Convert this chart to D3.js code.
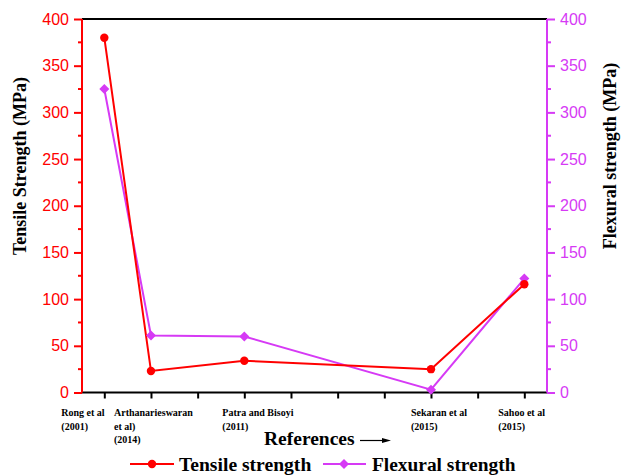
<!DOCTYPE html>
<html><head><meta charset="utf-8">
<script src="https://cdn.jsdelivr.net/npm/d3@7"></script>
<style>body{margin:0;background:#fff}svg{display:block}
.serif{font-family:"Liberation Serif","Times New Roman",Times,"DejaVu Serif",serif;font-weight:bold}
</style>
</head><body>
<svg id="c" width="621" height="475"></svg>
<script>
const tickCount = 10; // x tick positions 0..9
const refIndex = [0, 1, 3, 7, 9];
const refLabels = [
  ["Rong et al", "(2001)"],
  ["Arthanarieswaran", "et al)", "(2014)"],
  ["Patra and Bisoyi", "(2011)"],
  ["Sekaran et al", "(2015)"],
  ["Sahoo et al", "(2015)"]
];
const tensile = [380, 23, 34, 25, 116];
const flexural = [325, 61, 60, 3, 122];
const yTicks = [0, 50, 100, 150, 200, 250, 300, 350, 400];

const RED = "#ff0000", MAG = "#d63af5";
const L = 82, R = 547, T = 19, B = 392.5;
const svg = d3.select("#c");
const x = d3.scaleLinear().domain([-0.478, 9.486]).range([L, R]);
const yL = d3.scaleLinear().domain([0, 400]).range([B, T]);
const yR = d3.scaleLinear().domain([0, 400]).range([B, T]);

svg.append("line").attr("x1", L).attr("x2", R).attr("y1", T).attr("y2", T)
  .attr("stroke", "#000").attr("stroke-width", 2);

const xa = svg.append("g").attr("transform", `translate(0,${B})`)
  .call(d3.axisBottom(x).tickValues(d3.range(tickCount)).tickSize(6).tickFormat(""));
xa.select(".domain").attr("stroke", "#000").attr("stroke-width", 2).attr("d", `M${L},0H${R}`);
xa.selectAll(".tick line").attr("stroke", "#000").attr("stroke-width", 2);

const minor = d3.range(25, 400, 50);
function yAxis(scale, side, color) {
  const g = svg.append("g").attr("transform", `translate(${side === "left" ? L : R},0)`);
  const ax = side === "left" ? d3.axisLeft(scale) : d3.axisRight(scale);
  g.call(ax.tickValues(yTicks).tickSize(8).tickPadding(5));
  g.select(".domain").attr("stroke", color).attr("stroke-width", 2).attr("d", `M0,${T}V${B}`);
  g.selectAll(".tick line").attr("stroke", color).attr("stroke-width", 2);
  g.selectAll(".tick text").attr("fill", color).style("font-family", "Arial, 'Liberation Sans', sans-serif")
    .style("font-size", "16px");
  g.selectAll(".minor").data(minor).enter().append("line")
    .attr("x1", 0).attr("x2", side === "left" ? -4 : 4)
    .attr("y1", d => scale(d)).attr("y2", d => scale(d))
    .attr("stroke", color).attr("stroke-width", 2);
}
yAxis(yL, "left", RED);
yAxis(yR, "right", MAG);

const dx = [-43, -37, -22, -20, -26];
const lab = svg.append("g").attr("class", "serif").style("font-size", "10px").attr("fill", "#000");
refLabels.forEach((lines, i) => {
  const t = lab.append("text");
  lines.forEach((s, j) => t.append("tspan").attr("x", x(refIndex[i]) + dx[i]).attr("y", 416 + j * 13.5).text(s));
});

svg.append("text").attr("class", "serif").attr("transform", "translate(26,166) rotate(-90)").attr("text-anchor", "middle")
  .style("font-size", "18px").text("Tensile Strength (MPa)");
svg.append("text").attr("class", "serif").attr("transform", "translate(616,156) rotate(-90)").attr("text-anchor", "middle")
  .style("font-size", "18px").text("Flexural strength (MPa)");
svg.append("text").attr("class", "serif").attr("x", 264).attr("y", 445)
  .style("font-size", "19.5px").text("References");
svg.append("line").attr("x1", 360).attr("x2", 384).attr("y1", 440.5).attr("y2", 440.5).attr("stroke", "#000").attr("stroke-width", 1.2);
svg.append("path").attr("d", "M391,440.5 L382,438 L382,443 Z").attr("fill", "#000");

const line = (ys) => d3.line().x((d, i) => x(refIndex[i])).y(d => ys(d));
svg.append("path").datum(flexural).attr("d", line(yR)).attr("fill", "none").attr("stroke", MAG).attr("stroke-width", 2);
svg.append("path").datum(tensile).attr("d", line(yL)).attr("fill", "none").attr("stroke", RED).attr("stroke-width", 2);
const dia = d3.symbol().type(d3.symbolSquare).size(50);
svg.selectAll(".fm").data(flexural).enter().append("path")
  .attr("transform", (d, i) => `translate(${x(refIndex[i])},${yR(d)}) rotate(45)`).attr("d", dia).attr("fill", MAG);
svg.selectAll(".tm").data(tensile).enter().append("circle")
  .attr("cx", (d, i) => x(refIndex[i])).attr("cy", d => yL(d)).attr("r", 4.2).attr("fill", RED);

const lg = svg.append("g");
lg.append("line").attr("x1", 130).attr("x2", 174).attr("y1", 464).attr("y2", 464).attr("stroke", RED).attr("stroke-width", 2);
lg.append("circle").attr("cx", 152).attr("cy", 464).attr("r", 4.2).attr("fill", RED);
lg.append("text").attr("class", "serif").attr("x", 179).attr("y", 471).style("font-size", "19.6px").text("Tensile strength");
lg.append("line").attr("x1", 323).attr("x2", 366).attr("y1", 464).attr("y2", 464).attr("stroke", MAG).attr("stroke-width", 2);
lg.append("path").attr("transform", "translate(344,464) rotate(45)").attr("d", dia).attr("fill", MAG);
lg.append("text").attr("class", "serif").attr("x", 372).attr("y", 471).style("font-size", "19.4px").text("Flexural strength");
</script>
</body></html>
